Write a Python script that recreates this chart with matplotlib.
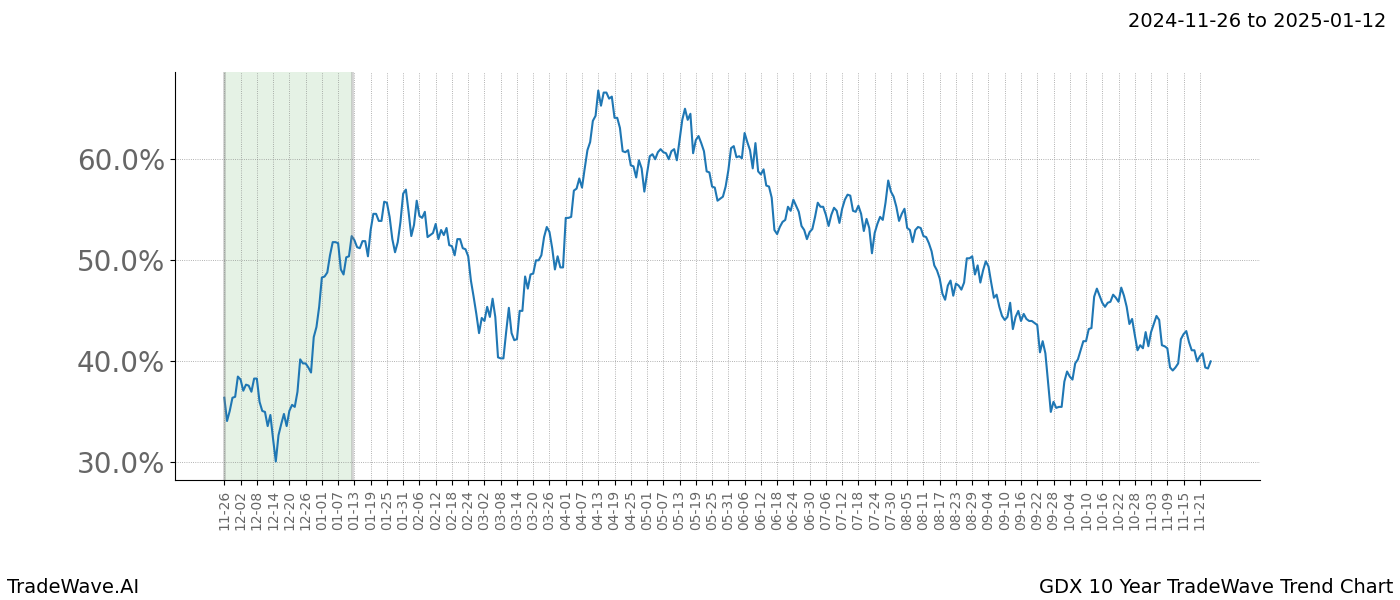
import numpy as np
import pandas as pd
import matplotlib
matplotlib.use("Agg")
from matplotlib import pyplot as plt
import matplotlib.dates as mdates


# !Data: 10 year seasonal trend, one value per day starting 2024-11-26 (percent)
start_date = "2024-11-26"
highlight_start = "2024-11-26"
highlight_end = "2025-01-12"

trend_values = [
    36.4, 34.1, 35.1, 36.4, 36.5, 38.5, 38.2, 37.1, 37.7, 37.6,
    37.0, 38.3, 38.3, 36.0, 35.1, 35.0, 33.6, 34.7, 32.3, 30.1,
    32.7, 33.8, 34.8, 33.6, 35.1, 35.7, 35.5, 37.0, 40.2, 39.8,
    39.8, 39.4, 38.9, 42.4, 43.4, 45.4, 48.3, 48.4, 48.8, 50.5,
    51.8, 51.8, 51.7, 49.1, 48.6, 50.3, 50.4, 52.4, 52.0, 51.3,
    51.2, 51.9, 51.9, 50.4, 53.0, 54.6, 54.6, 53.9, 53.9, 55.8,
    55.7, 54.3, 52.1, 50.8, 51.8, 53.8, 56.6, 57.0, 54.8, 52.4,
    53.5, 55.9, 54.4, 54.2, 54.8, 52.3, 52.5, 52.7, 53.6, 52.1,
    53.0, 52.5, 53.2, 51.5, 51.4, 50.5, 52.1, 52.1, 51.2, 51.1,
    50.4, 48.0, 46.4, 44.7, 42.8, 44.3, 44.0, 45.4, 44.4, 46.2,
    44.4, 40.4, 40.3, 40.3, 42.9, 45.3, 42.8, 42.1, 42.2, 45.0,
    45.0, 48.4, 47.2, 48.6, 48.7, 50.0, 50.0, 50.5, 52.3, 53.3,
    52.8, 51.2, 49.1, 50.4, 49.3, 49.3, 54.2, 54.2, 54.3, 56.9,
    57.1, 58.1, 57.2, 59.1, 60.9, 61.7, 63.8, 64.3, 66.8, 65.3,
    66.6, 66.6, 66.0, 66.2, 64.1, 64.1, 63.1, 60.8, 60.7, 60.9,
    59.4, 59.3, 58.2, 59.9, 59.1, 56.8, 58.6, 60.3, 60.5, 60.0,
    60.7, 61.0, 60.7, 60.6, 60.0, 60.8, 61.0, 59.9, 61.9, 63.9,
    65.0, 63.9, 64.5, 60.6, 61.9, 62.3, 61.6, 60.8, 58.8, 58.7,
    57.3, 57.2, 55.9, 56.1, 56.3, 57.3, 58.9, 61.1, 61.3, 60.2,
    60.3, 60.1, 62.6, 61.7, 60.9, 59.1, 61.6, 58.8, 58.5, 59.0,
    57.4, 57.3, 56.2, 53.0, 52.6, 53.3, 53.8, 54.0, 55.3, 54.9,
    56.0, 55.4, 54.8, 53.4, 53.0, 52.1, 52.8, 53.1, 54.3, 55.7,
    55.3, 55.3, 54.5, 53.4, 54.5, 55.2, 54.9, 53.7, 55.1, 56.0,
    56.5, 56.4, 54.9, 54.8, 55.4, 54.6, 52.9, 54.1, 53.2, 50.7,
    52.7, 53.6, 54.3, 54.0, 55.7, 57.9, 56.8, 56.3, 55.3, 53.9,
    54.6, 55.1, 53.2, 53.0, 51.8, 53.0, 53.3, 53.2, 52.4, 52.3,
    51.7, 50.9, 49.5, 49.0, 48.2, 46.7, 46.1, 47.5, 48.0, 46.5,
    47.7, 47.5, 47.1, 47.8, 50.2, 50.2, 50.4, 48.6, 49.5, 47.8,
    49.0, 49.9, 49.4, 47.8, 46.3, 46.6, 45.4, 44.5, 44.1, 44.4,
    45.8, 43.2, 44.4, 45.0, 44.0, 44.7, 44.2, 44.0, 44.0, 43.8,
    43.6, 40.9, 42.0, 40.8, 37.9, 35.0, 36.0, 35.4, 35.5, 35.5,
    38.0, 39.0, 38.5, 38.2, 39.8, 40.2, 41.1, 42.0, 42.0, 43.2,
    43.3, 46.4, 47.2, 46.5, 45.8, 45.4, 45.8, 45.9, 46.6, 46.3,
    45.9, 47.3, 46.5, 45.4, 43.7, 44.2, 42.6, 41.1, 41.6, 41.3,
    42.9, 41.5, 42.9, 43.7, 44.5, 44.1, 41.6, 41.5, 41.3, 39.4,
    39.1, 39.4, 39.8, 42.2, 42.7, 43.0, 41.9, 41.1, 41.1, 40.0,
    40.5, 40.8, 39.4, 39.3, 40.0,
]

dates = pd.date_range(start_date, periods=len(trend_values), freq="D")
tick_dates = pd.date_range(start_date, dates[-1], freq="6D")



# !Figure
fig = plt.figure(figsize=(14, 6), dpi=100)
ax = fig.add_axes([0.125, 0.2, 0.775, 0.68])

ax.plot(dates, trend_values, color="#1f77b4", linewidth=1.5)

# !Highlighted window
hs, he = pd.Timestamp(highlight_start), pd.Timestamp(highlight_end)
ax.axvspan(hs, he, color="green", alpha=0.1, linewidth=0)
ax.axvline(hs, color="gray", alpha=0.35, linewidth=2)
ax.axvline(he, color="gray", alpha=0.35, linewidth=2)

# !Axes styling
ax.spines["top"].set_visible(False)
ax.spines["right"].set_visible(False)
ax.set_xticks(tick_dates)
ax.xaxis.set_major_formatter(mdates.DateFormatter("%m-%d"))
ax.tick_params(axis="x", labelrotation=90, labelsize=10, labelcolor="#666666")
ax.tick_params(axis="y", labelsize=20, labelcolor="#666666")
ax.set_yticks([30, 40, 50, 60])
ax.yaxis.set_major_formatter(plt.FuncFormatter(lambda v, p: f"{v:.1f}%"))
ax.grid(True, color="gray", linestyle=":", linewidth=0.6, alpha=0.8)

# !Titles / captions
fig.text(0.99, 0.98, f"{highlight_start} to {highlight_end}", ha="right", va="top", fontsize=14)
fig.text(0.005, 0.005, "TradeWave.AI", ha="left", va="bottom", fontsize=14)
fig.text(0.995, 0.005, "GDX 10 Year TradeWave Trend Chart", ha="right", va="bottom", fontsize=14)

fig.savefig("out.png", dpi=100)
